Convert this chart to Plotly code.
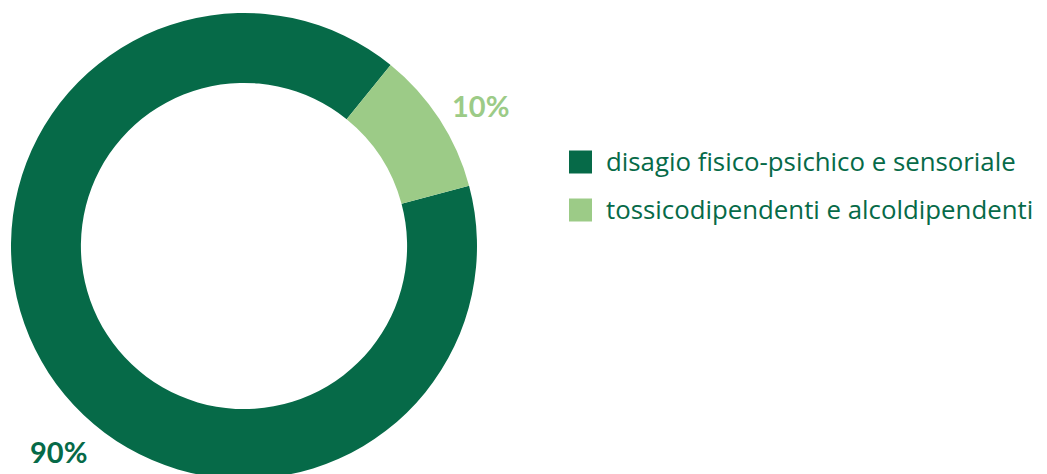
import plotly.graph_objects as go

labels = ["disagio fisico-psichico e sensoriale", "tossicodipendenti e alcoldipendenti"]
values = [90, 10]
colors = ["#066a48", "#9ccb87"]

W, H = 1047, 474
OFF = 8            # page offset of the figure inside the browser body
MT, MB = 5, 3
FONT = "Open Sans"

def px(x):
    return (x - OFF) / W

def py(y):
    return (H - MB - (y - OFF)) / (H - MT - MB)

fig = go.Figure()
fig.add_trace(go.Pie(
    labels=labels,
    values=values,
    hole=0.70,
    sort=False,
    direction="clockwise",
    rotation=75,
    marker=dict(colors=colors, line=dict(width=0)),
    textinfo="none",
    hoverinfo="label+percent",
    showlegend=False,
    domain=dict(x=[0, 472 / W], y=[0, 1]),
))

# percentage labels (positions in page pixels)
label_px = [(58, 451), (480, 105)]
for v, c, (x, y) in zip(values, colors, label_px):
    fig.add_annotation(
        x=px(x), y=py(y), xref="paper", yref="paper",
        text=f"{v}%", showarrow=False,
        xanchor="center", yanchor="middle",
        font=dict(family="Lato", size=29, color=c, weight="bold"),
    )

# custom legend
leg_x, leg_y0, leg_dy, sq = 569, 162, 48, 23
for i, (lab, c) in enumerate(zip(labels, colors)):
    cy = leg_y0 + i * leg_dy
    fig.add_shape(
        type="rect", xref="paper", yref="paper",
        x0=px(leg_x), x1=px(leg_x + sq),
        y0=py(cy + sq / 2), y1=py(cy - sq / 2),
        fillcolor=c, line=dict(width=0),
    )
    fig.add_annotation(
        x=px(leg_x + sq + 12), y=py(cy - 1), xref="paper", yref="paper",
        text=lab, showarrow=False,
        xanchor="left", yanchor="middle",
        font=dict(family=FONT, size=25.8, color=colors[0]),
    )

fig.update_layout(
    width=W, height=H,
    margin=dict(l=0, r=0, t=MT, b=MB),
    paper_bgcolor="white",
    plot_bgcolor="white",
    showlegend=False,
)

fig.write_html("out.html")
